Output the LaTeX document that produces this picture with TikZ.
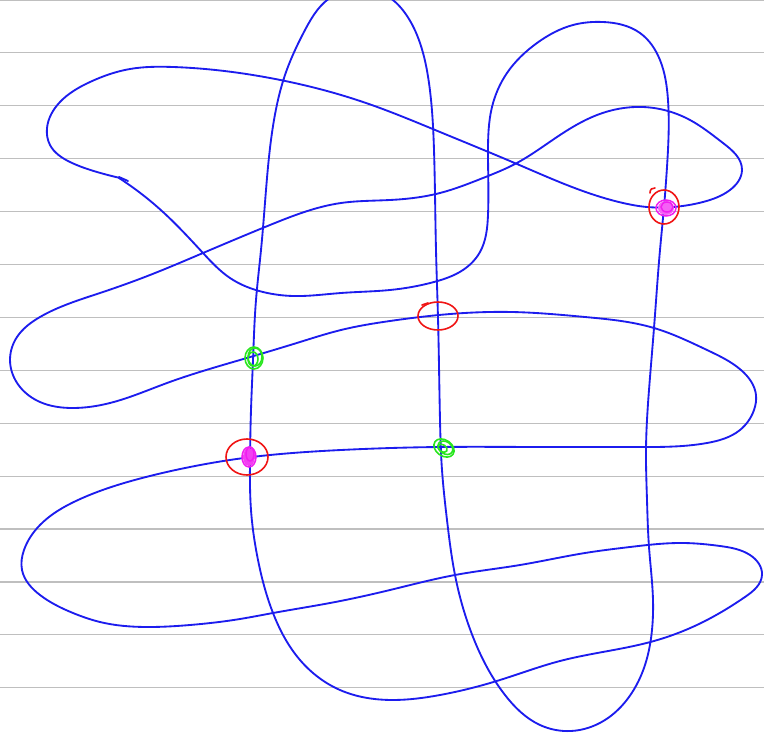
\documentclass[tikz,border=0pt]{standalone}
\usetikzlibrary{hobby}
\definecolor{pen}{RGB}{28,28,238}
\definecolor{penred}{RGB}{240,20,20}
\definecolor{pengreen}{RGB}{40,230,30}
\definecolor{penpink}{RGB}{240,30,240}
\begin{document}
\begin{tikzpicture}[x=1pt,y=-1pt,
  rule/.style={draw=black!25,line width=1.2pt},
  curve/.style={draw=pen,line width=1.85pt,line cap=round,line join=round},
  redmark/.style={draw=penred,line width=1.6pt,line cap=round},
  greenmark/.style={draw=pengreen,line width=1.6pt},
  pinkmark/.style={draw=penpink,line width=1.5pt}]
\useasboundingbox (0,0) rectangle (764,733);
\clip (0,0) rectangle (764,733);
\fill[white] (0,0) rectangle (764,733);
% ruled lines
\foreach \k in {0,...,13} {\draw[rule] (0,52.9*\k) -- (764,52.9*\k);}
% blue curve
\draw[curve] (128,181) -- (119,177);
\draw[curve,use Hobby shortcut] (119,178) .. (163,212) .. (203,253) .. (230,278) .. (263,292) .. (293,296) .. (341,293) .. (390,290) .. (434,282) .. (463,270) .. (480,252) .. (488,215) .. (488,153) .. (492,107) .. (507,73) .. (537,43) .. (573,25) .. (603,22) .. (640,33) .. (660,60) .. (668,100) .. (667,167) .. (664,207) .. (660,250) .. (654,328) .. (649,390) .. (646,450) .. (647,500) .. (649,547) .. (653,600) .. (652,630) .. (645,665) .. (629,697) .. (605,720) .. (571,731) .. (540,725) .. (505,695) .. (473,637) .. (455,575) .. (447,520) .. (442,470) .. (440,420) .. (438,318) .. (436,250) .. (434,150) .. (429,83) .. (420,43) .. (405,13) .. (385,-5) .. (360,-10) .. (335,-5) .. (305,30) .. (285,75) .. (274,120) .. (266,190) .. (261,250) .. (256,300) .. (253,360) .. (251,410) .. (250,460) .. (251,510) .. (258,560) .. (273,613) .. (300,660) .. (340,690) .. (393,700) .. (440,695) .. (500,680) .. (560,661) .. (654,641) .. (707,620) .. (745,597) .. (762,575) .. (750,555) .. (720,546) .. (683,543) .. (630,547) .. (585,553) .. (520,565) .. (455,575) .. (390,590) .. (330,603) .. (273,613) .. (240,619) .. (190,625) .. (146,627) .. (100,622) .. (73,613) .. (40,595) .. (22,570) .. (24,550) .. (40,525) .. (78,500) .. (146,477) .. (190,467) .. (244,458) .. (341,450) .. (439,447) .. (540,447) .. (634,447) .. (707,443) .. (740,430) .. (754,410) .. (756,395) .. (741,370) .. (707,350) .. (654,328) .. (585,317) .. (512,312) .. (439,315) .. (390,321) .. (341,330) .. (300,342) .. (240,360) .. (167,383) .. (110,403) .. (73,408) .. (40,402) .. (20,387) .. (10,360) .. (17,337) .. (40,317) .. (100,293) .. (150,275) .. (203,253) .. (270,225) .. (341,203) .. (390,200) .. (440,193) .. (483,178) .. (515,164) .. (557,137) .. (597,115) .. (643,107) .. (690,120) .. (723,143) .. (742,170) .. (730,190) .. (703,202) .. (673,207) .. (647,207) .. (623,203) .. (580,190) .. (517,164) .. (440,132) .. (366,103) .. (270,78) .. (173,67) .. (130,69) .. (90,82) .. (60,102) .. (47,128) .. (50,145) .. (70,162) .. (97,172) .. (120,178);
% red circles
\draw[redmark] (664,207) ellipse[x radius=15,y radius=17];
\draw[redmark] (650,193) .. controls (650,189) and (652,188) .. (655,188);
\draw[redmark] (438,316) ellipse[x radius=20,y radius=14];
\draw[redmark] (422,305) -- (428,303);
\draw[redmark] (247,457) ellipse[x radius=21,y radius=18];
% green scribbles
\draw[greenmark] (254,358) ellipse[x radius=9,y radius=11];
\draw[greenmark] (255,357) ellipse[x radius=7,y radius=9];
\draw[greenmark] (253,359) ellipse[x radius=5,y radius=7];
\draw[greenmark,rotate around={-35:(444,448)}] (444,448) ellipse[x radius=11,y radius=8];
\draw[greenmark,rotate around={-35:(444,448)}] (445,447) ellipse[x radius=8,y radius=6];
\draw[greenmark,rotate around={-35:(444,448)}] (443,449) ellipse[x radius=5,y radius=3.5];
% magenta scribbles
\fill[penpink!85] (249,457) ellipse[x radius=6,y radius=9];
\draw[pinkmark] (249,457) ellipse[x radius=7,y radius=10];
\draw[pinkmark] (250,454) ellipse[x radius=4,y radius=7];
\fill[penpink!70] (666,208) ellipse[x radius=8,y radius=7];
\draw[pinkmark] (666,208) ellipse[x radius=10,y radius=8];
\draw[pinkmark] (667,207) ellipse[x radius=6,y radius=5];
\end{tikzpicture}
\end{document}
